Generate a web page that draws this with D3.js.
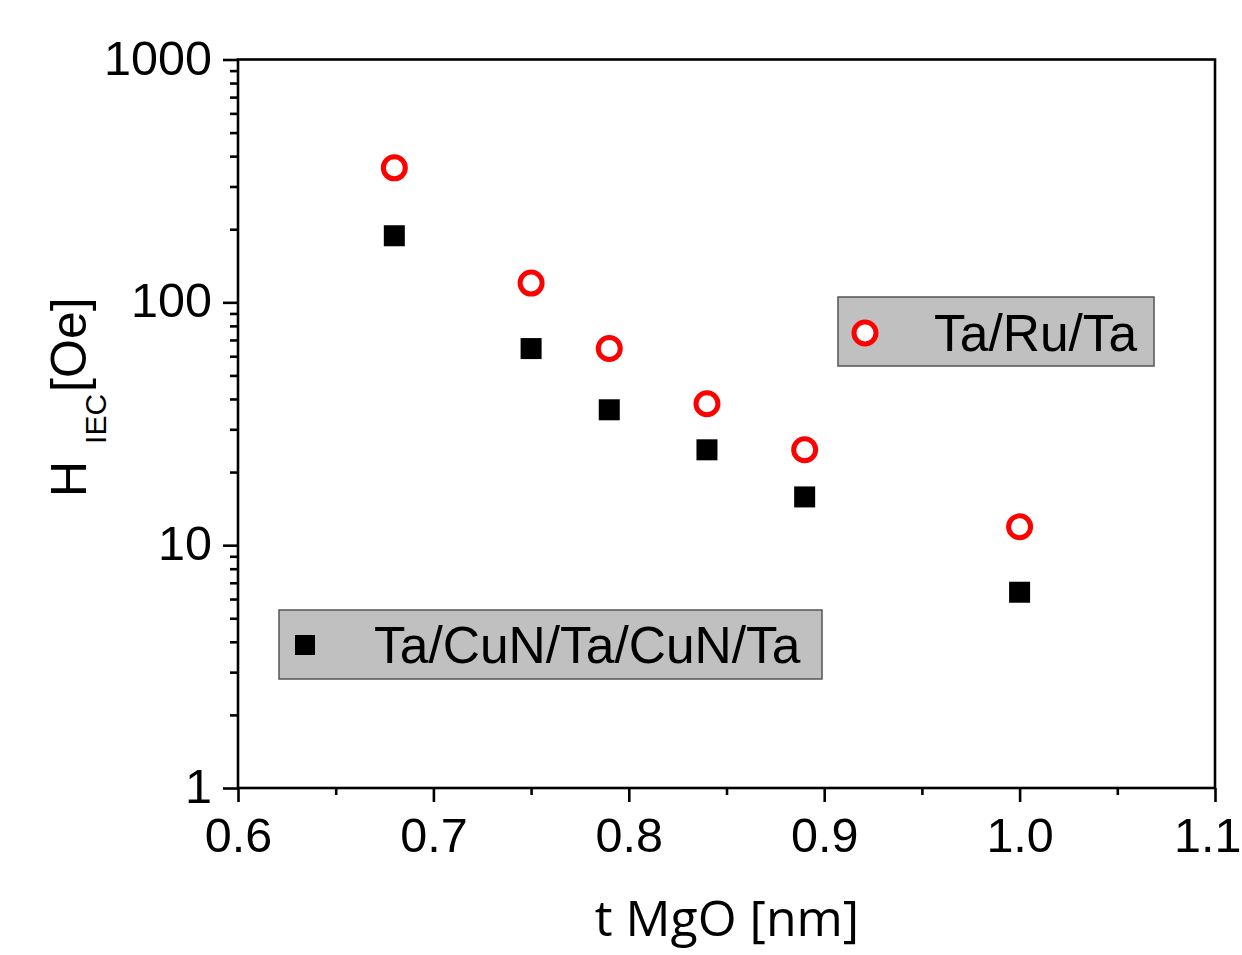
<!DOCTYPE html>
<html>
<head>
<meta charset="utf-8">
<script src="https://cdn.jsdelivr.net/npm/d3@7"></script>
<style>
  html, body { margin: 0; padding: 0; background: #fff; }
  svg { display: block; }
  text { font-family: "Liberation Sans", Arial, sans-serif; fill: #000; }
</style>
</head>
<body>
<svg id="chart" width="1242" height="955"></svg>
<script>
// MgO thickness (nm) and interlayer exchange coupling field (Oe)
const tMgO = [0.68, 0.75, 0.79, 0.84, 0.89, 1.0];
const hRuSeries = [358, 120, 64.5, 38.2, 24.7, 11.9];      // Ta/Ru/Ta
const hCuNSeries = [188, 64.5, 36.1, 24.7, 15.8, 6.4];     // Ta/CuN/Ta/CuN/Ta
const xTicks = [0.6, 0.7, 0.8, 0.9, 1.0, 1.1];
const xMinor = [0.65, 0.75, 0.85, 0.95, 1.05];
const yTicks = [1, 10, 100, 1000];
const legendRu = "Ta/Ru/Ta";
const legendCuN = "Ta/CuN/Ta/CuN/Ta";

const svg = d3.select("#chart");
const L = 238, R = 1215, T = 59.5, B = 788;

const x = d3.scaleLinear().domain([0.6, 1.1]).range([L, R]);
const y = d3.scaleLog().domain([1, 1000]).range([B, T]);

const yMinor = [];
for (let d = 1; d < 1000; d *= 10) for (let k = 2; k <= 9; k++) yMinor.push(d * k);

const axisStroke = 2.6;

// minor ticks
svg.append("g").attr("transform", `translate(${L},0)`)
  .call(d3.axisLeft(y).tickValues(yMinor).tickSize(8).tickFormat(""))
  .call(g => g.select(".domain").remove())
  .call(g => g.selectAll("line").attr("stroke", "#000").attr("stroke-width", axisStroke));
svg.append("g").attr("transform", `translate(0,${B})`)
  .call(d3.axisBottom(x).tickValues(xMinor).tickSize(7).tickFormat(""))
  .call(g => g.select(".domain").remove())
  .call(g => g.selectAll("line").attr("stroke", "#000").attr("stroke-width", axisStroke));

// major ticks + labels
const yAxis = svg.append("g").attr("transform", `translate(${L},0)`)
  .call(d3.axisLeft(y).tickValues(yTicks).tickSize(15).tickPadding(11).tickFormat(d3.format("d")));
yAxis.select(".domain").remove();
yAxis.selectAll("line").attr("stroke", "#000").attr("stroke-width", axisStroke);
yAxis.selectAll("text").attr("font-size", 48.5).attr("dy", "0.3em")
  .style("font-family", "'Liberation Sans', Arial, sans-serif");

const xAxis = svg.append("g").attr("transform", `translate(0,${B})`)
  .call(d3.axisBottom(x).tickValues(xTicks).tickSize(14).tickPadding(0).tickFormat(d3.format(".1f")));
xAxis.select(".domain").remove();
xAxis.selectAll("line").attr("stroke", "#000").attr("stroke-width", axisStroke);
xAxis.selectAll("text").attr("font-size", 48.5).attr("dy", null).attr("y", 64)
  .style("font-family", "'Liberation Sans', Arial, sans-serif");
// keep the last tick label inside the page edge
xAxis.selectAll(".tick").filter(d => d === 1.1).select("text")
  .attr("text-anchor", "end").attr("x", 1241 - x(1.1));

// frame
svg.append("rect").attr("x", L).attr("y", T).attr("width", R - L).attr("height", B - T)
  .attr("fill", "none").attr("stroke", "#000").attr("stroke-width", axisStroke);

// axis titles
svg.append("text").attr("x", 727).attr("y", 936).attr("text-anchor", "middle")
  .attr("font-size", 50).style("font-family", "'Open Sans', sans-serif")
  .text("t MgO [nm]");

const yt = svg.append("text").attr("transform", "translate(86,497) rotate(-90)")
  .attr("font-size", 50);
yt.append("tspan").text("H");
yt.append("tspan").attr("font-size", 30).attr("dx", 17).attr("dy", 20).text("IEC");
yt.append("tspan").attr("dx", 2).attr("dy", -20).text("[Oe]");

// data marks
const pts = tMgO.map((t, i) => ({ t, ru: hRuSeries[i], cun: hCuNSeries[i] }));
const sq = 21;
svg.append("g").selectAll("rect").data(pts).join("rect")
  .attr("x", d => x(d.t) - sq / 2).attr("y", d => y(d.cun) - sq / 2)
  .attr("width", sq).attr("height", sq).attr("fill", "#000");
svg.append("g").selectAll("circle").data(pts).join("circle")
  .attr("cx", d => x(d.t)).attr("cy", d => y(d.ru)).attr("r", 11)
  .attr("fill", "#fff").attr("stroke", "#ff0000").attr("stroke-width", 5);

// legends
const lg1 = svg.append("g");
lg1.append("rect").attr("x", 838).attr("y", 297).attr("width", 316).attr("height", 69)
  .attr("fill", "#c0c0c0").attr("stroke", "#555").attr("stroke-width", 1.5);
lg1.append("circle").attr("cx", 865).attr("cy", 333).attr("r", 11)
  .attr("fill", "#fff").attr("stroke", "#ff0000").attr("stroke-width", 5);
lg1.append("text").attr("x", 934).attr("y", 351).attr("font-size", 51.5).text(legendRu);

const lg2 = svg.append("g");
lg2.append("rect").attr("x", 279).attr("y", 610).attr("width", 543).attr("height", 69)
  .attr("fill", "#c0c0c0").attr("stroke", "#555").attr("stroke-width", 1.5);
lg2.append("rect").attr("x", 305 - 10).attr("y", 645 - 10).attr("width", 20).attr("height", 20)
  .attr("fill", "#000");
lg2.append("text").attr("x", 374).attr("y", 663).attr("font-size", 51.5).text(legendCuN);
</script>
</body>
</html>
